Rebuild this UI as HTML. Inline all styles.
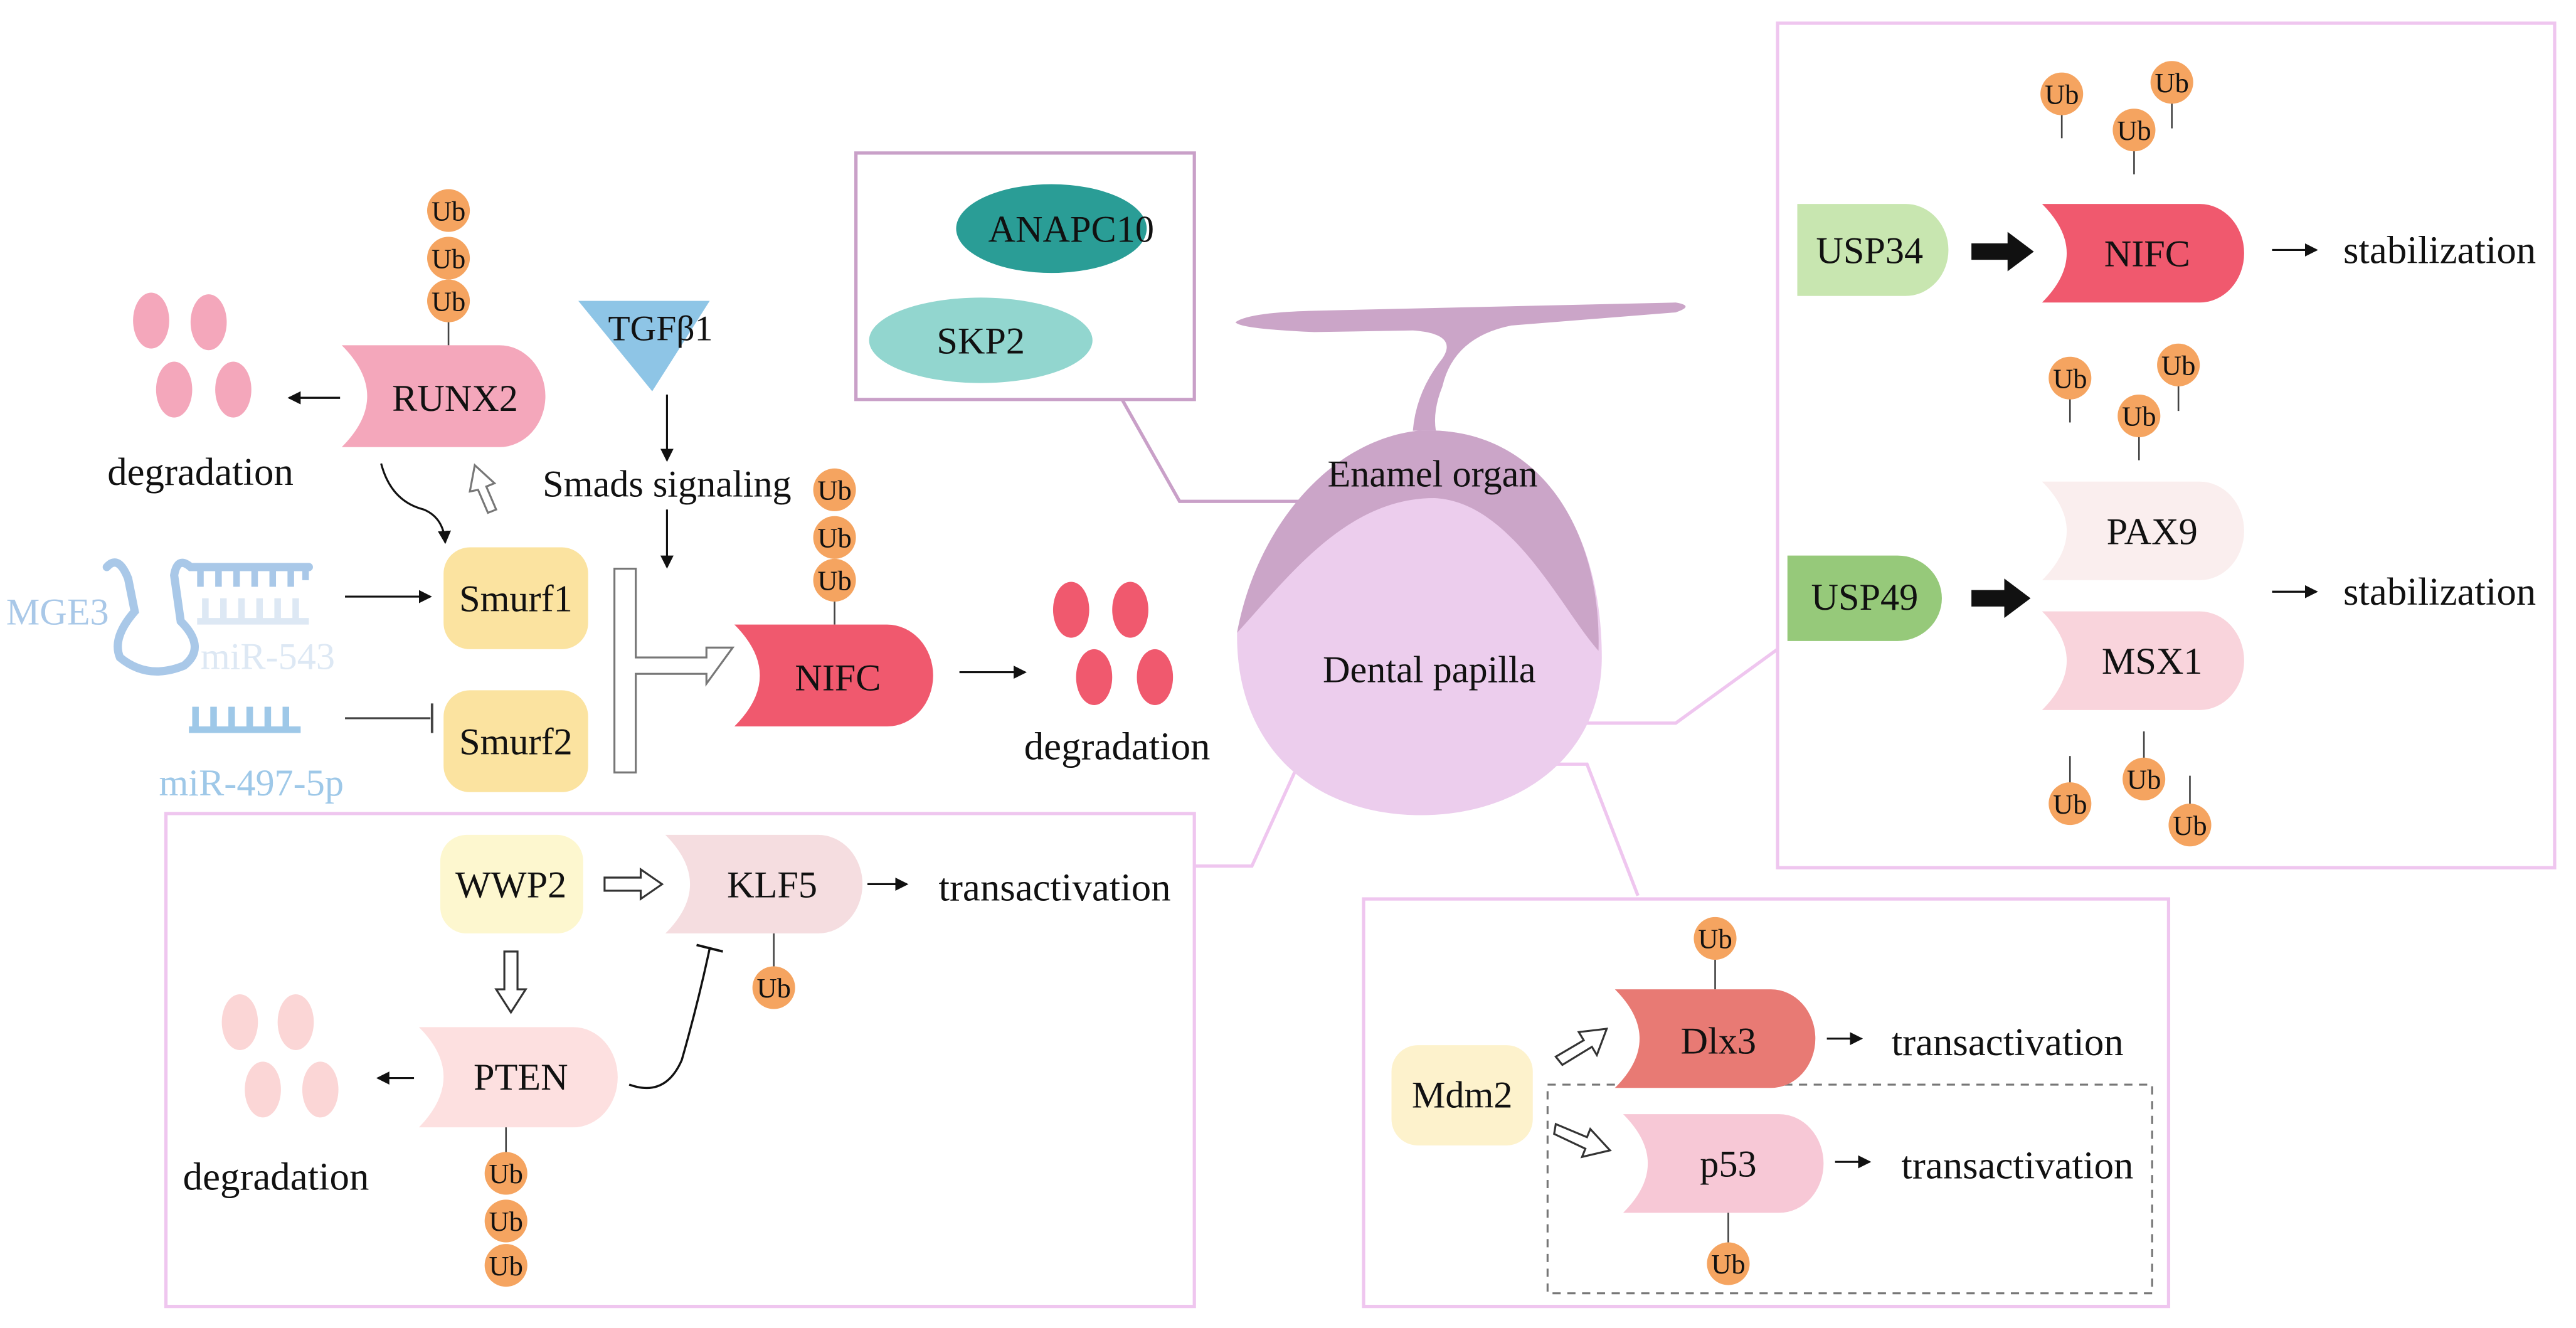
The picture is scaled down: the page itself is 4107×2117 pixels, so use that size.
<!DOCTYPE html>
<html><head><meta charset="utf-8"><style>
html,body{margin:0;padding:0;background:#fff;width:4107px;height:2117px;overflow:hidden}
svg{display:block}
text{font-family:"Liberation Serif",serif;fill:#111}
</style></head><body>
<svg width="4107" height="2117" viewBox="0 0 1568 808" xmlns="http://www.w3.org/2000/svg">
<defs>
<marker id="ar" markerWidth="8" markerHeight="8" refX="7" refY="4" orient="auto" markerUnits="userSpaceOnUse"><path d="M0 0 L8 4 L0 8 Z" fill="#111"/></marker>
<g id="ub"><circle r="13" fill="#f5a460"/><text y="6" text-anchor="middle" font-size="17">Ub</text></g>
</defs>

<g fill="none" stroke-width="2">
<polyline points="683,243 718,305 810,305" stroke="#c9a0c8"/>
<polyline points="958,440 1020,440 1082,395" stroke="#efc6ef"/>
<polyline points="938,465 966,465 997,545" stroke="#efc6ef"/>
<polyline points="788,470 762,527 727,527" stroke="#efc6ef"/>
</g>

<rect x="521" y="93" width="206" height="150" fill="none" stroke="#c9a0c8" stroke-width="2"/>
<rect x="1082" y="14" width="473" height="514" fill="none" stroke="#efc6ef" stroke-width="2"/>
<rect x="101" y="495" width="626" height="300" fill="none" stroke="#efc6ef" stroke-width="2"/>
<rect x="830" y="547" width="490" height="248" fill="none" stroke="#efc6ef" stroke-width="2"/>
<rect x="942" y="660" width="368" height="127" fill="none" stroke="#777" stroke-width="1.2" stroke-dasharray="5,4"/>

<ellipse cx="640" cy="139" rx="58" ry="27" fill="#2a9d96"/>
<text x="652" y="147" text-anchor="middle" font-size="23">ANAPC10</text>
<ellipse cx="597" cy="207" rx="68" ry="26" fill="#92d6cf"/>
<text x="597" y="215" text-anchor="middle" font-size="23">SKP2</text>

<path d="M752 196 Q760 190 800 189 L1020 184 Q1032 186 1020 190 L920 198 Q885 205 878 235 Q872 250 874 262 L860 262 Q862 238 878 218 Q888 203 860 201 L800 202 Q755 200 752 196 Z" fill="#cba5c8"/>
<path d="M753 385 C765 320 810 268 863 262 C935 258 975 320 975 400 C975 460 925 496 865 496 C800 496 752 455 753 385 Z" fill="#eccded"/>
<path d="M753 385 C765 320 810 268 863 262 C935 258 975 320 973 396 C950 370 920 305 873 303 C820 303 785 350 753 385 Z" fill="#cba5c8"/>
<text x="872" y="296" text-anchor="middle" font-size="23">Enamel organ</text>
<text x="870" y="415" text-anchor="middle" font-size="23">Dental papilla</text>

<line x1="273" y1="190" x2="273" y2="210" stroke="#444" stroke-width="1"/>
<use href="#ub" x="273" y="128"/><use href="#ub" x="273" y="157"/><use href="#ub" x="273" y="183"/>
<path d="M208 210 H304 A28 31 0 0 1 304 272 H208 Q239 241 208 210Z" fill="#f4a7bb"/>
<text x="277" y="250" text-anchor="middle" font-size="23">RUNX2</text>
<g fill="#f4a7bb"><ellipse cx="92" cy="195" rx="11" ry="17"/><ellipse cx="127" cy="196" rx="11" ry="17"/><ellipse cx="106" cy="237" rx="11" ry="17"/><ellipse cx="142" cy="237" rx="11" ry="17"/></g>
<line x1="207" y1="242" x2="176" y2="242" stroke="#111" stroke-width="1.3" marker-end="url(#ar)"/>
<text x="122" y="295" text-anchor="middle" font-size="24">degradation</text>

<polygon points="352,183 432,183 397,238" fill="#8ec5e6"/>
<text x="402" y="207" text-anchor="middle" font-size="22">TGFβ1</text>
<line x1="406" y1="240" x2="406" y2="280" stroke="#111" stroke-width="1.2" marker-end="url(#ar)"/>
<text x="406" y="302" text-anchor="middle" font-size="23">Smads signaling</text>
<line x1="406" y1="310" x2="406" y2="345" stroke="#111" stroke-width="1.2" marker-end="url(#ar)"/>

<path d="M232 282 Q238 305 258 310 Q270 315 271 330" fill="none" stroke="#111" stroke-width="1.2" marker-end="url(#ar)"/>
<polygon points="302,310 296,296 301,294 289,283 286,299 291,298 297,312" fill="#fff" stroke="#777" stroke-width="1.2"/>

<text x="35" y="380" text-anchor="middle" font-size="23" style="fill:#a9c8e8">MGE3</text>
<g fill="none" stroke="#a9c8e8" stroke-width="5" stroke-linecap="round">
<path d="M65 345 Q72 337 78 352 L82 372 Q68 388 73 400 Q90 414 112 405 Q126 394 110 378 L106 350 Q108 338 116 345 L188 345"/>
</g>
<g stroke="#a9c8e8" stroke-width="4"><line x1="122" y1="345" x2="122" y2="357"/><line x1="133" y1="345" x2="133" y2="357"/><line x1="144" y1="345" x2="144" y2="357"/><line x1="155" y1="345" x2="155" y2="357"/><line x1="166" y1="345" x2="166" y2="357"/><line x1="177" y1="345" x2="177" y2="357"/><line x1="186" y1="345" x2="186" y2="353"/></g>
<g stroke="#dde8f4" stroke-width="4"><line x1="120" y1="378" x2="188" y2="378"/><line x1="125" y1="364" x2="125" y2="378"/><line x1="136" y1="364" x2="136" y2="378"/><line x1="147" y1="364" x2="147" y2="378"/><line x1="158" y1="364" x2="158" y2="378"/><line x1="169" y1="364" x2="169" y2="378"/><line x1="180" y1="364" x2="180" y2="378"/></g>
<text x="163" y="407" text-anchor="middle" font-size="23" style="fill:#dde8f4">miR-543</text>
<g stroke="#9ec8e8" stroke-width="4"><line x1="115" y1="444" x2="183" y2="444"/><line x1="119" y1="430" x2="119" y2="444"/><line x1="130" y1="430" x2="130" y2="444"/><line x1="141" y1="430" x2="141" y2="444"/><line x1="152" y1="430" x2="152" y2="444"/><line x1="163" y1="430" x2="163" y2="444"/><line x1="174" y1="430" x2="174" y2="444"/></g>
<text x="153" y="484" text-anchor="middle" font-size="23" style="fill:#9ec8e8">miR-497-5p</text>

<line x1="210" y1="363" x2="262" y2="363" stroke="#111" stroke-width="1.2" marker-end="url(#ar)"/>
<line x1="210" y1="437" x2="262" y2="437" stroke="#444" stroke-width="1.2"/>
<line x1="263" y1="428" x2="263" y2="446" stroke="#444" stroke-width="1.5"/>

<rect x="270" y="333" width="88" height="62" rx="16" fill="#fbe3a0"/>
<text x="314" y="372" text-anchor="middle" font-size="23">Smurf1</text>
<rect x="270" y="420" width="88" height="62" rx="16" fill="#fbe3a0"/>
<text x="314" y="459" text-anchor="middle" font-size="23">Smurf2</text>

<path d="M374 346 H387 V400 H430 V394 H446 L430 416 V410 H387 V470 H374 Z" fill="#fff" stroke="#777" stroke-width="1.2"/>

<line x1="508" y1="360" x2="508" y2="380" stroke="#444" stroke-width="1"/>
<use href="#ub" x="508" y="298"/><use href="#ub" x="508" y="327"/><use href="#ub" x="508" y="353"/>
<path d="M447 380 H540 A28 31 0 0 1 540 442 H447 Q478 411 447 380Z" fill="#f0596e"/>
<text x="510" y="420" text-anchor="middle" font-size="23">NIFC</text>
<line x1="584" y1="409" x2="624" y2="409" stroke="#111" stroke-width="1.2" marker-end="url(#ar)"/>
<g fill="#f0596e"><ellipse cx="652" cy="371" rx="11" ry="17"/><ellipse cx="688" cy="371" rx="11" ry="17"/><ellipse cx="666" cy="412" rx="11" ry="17"/><ellipse cx="703" cy="412" rx="11" ry="17"/></g>
<text x="680" y="462" text-anchor="middle" font-size="24">degradation</text>

<g stroke="#444" stroke-width="1"><line x1="1255" y1="66" x2="1255" y2="84"/><line x1="1322" y1="59" x2="1322" y2="78"/><line x1="1299" y1="88" x2="1299" y2="106"/></g>
<use href="#ub" x="1255" y="57"/><use href="#ub" x="1322" y="50"/><use href="#ub" x="1299" y="79"/>
<path d="M1094 124 H1160 A26 28 0 0 1 1160 180 H1094Z" fill="#c8e6b0"/>
<text x="1138" y="160" text-anchor="middle" font-size="23">USP34</text>
<polygon points="1200,148 1222,148 1222,141 1238,153 1222,165 1222,158 1200,158" fill="#111"/>
<path d="M1243 124 H1339 A27 30 0 0 1 1339 184 H1243 Q1273 154 1243 124Z" fill="#f0596e"/>
<text x="1307" y="162" text-anchor="middle" font-size="23">NIFC</text>
<line x1="1383" y1="152" x2="1410" y2="152" stroke="#111" stroke-width="1.2" marker-end="url(#ar)"/>
<text x="1485" y="160" text-anchor="middle" font-size="24">stabilization</text>

<g stroke="#444" stroke-width="1"><line x1="1260" y1="239" x2="1260" y2="257"/><line x1="1326" y1="231" x2="1326" y2="250"/><line x1="1302" y1="262" x2="1302" y2="280"/></g>
<use href="#ub" x="1260" y="230"/><use href="#ub" x="1326" y="222"/><use href="#ub" x="1302" y="253"/>
<path d="M1088 338 H1155 A27 26 0 0 1 1155 390 H1088Z" fill="#96c97a"/>
<text x="1135" y="371" text-anchor="middle" font-size="23">USP49</text>
<polygon points="1200,359 1220,359 1220,352 1236,364 1220,376 1220,369 1200,369" fill="#111"/>
<path d="M1243 293 H1339 A27 30 0 0 1 1339 353 H1243 Q1273 323 1243 293Z" fill="#faeeee"/>
<text x="1310" y="331" text-anchor="middle" font-size="23">PAX9</text>
<path d="M1243 372 H1339 A27 30 0 0 1 1339 432 H1243 Q1273 402 1243 372Z" fill="#f9d4dc"/>
<text x="1310" y="410" text-anchor="middle" font-size="23">MSX1</text>
<line x1="1383" y1="360" x2="1410" y2="360" stroke="#111" stroke-width="1.2" marker-end="url(#ar)"/>
<text x="1485" y="368" text-anchor="middle" font-size="24">stabilization</text>
<g stroke="#444" stroke-width="1"><line x1="1260" y1="460" x2="1260" y2="478"/><line x1="1305" y1="445" x2="1305" y2="463"/><line x1="1333" y1="472" x2="1333" y2="490"/></g>
<use href="#ub" x="1260" y="489"/><use href="#ub" x="1305" y="474"/><use href="#ub" x="1333" y="502"/>

<rect x="847" y="636" width="86" height="61" rx="16" fill="#fdf2cc"/>
<text x="890" y="674" text-anchor="middle" font-size="23">Mdm2</text>
<polygon points="947,643 964,633 961,628 978,626 972,642 969,637 951,648" fill="#fff" stroke="#333" stroke-width="1.2"/>
<polygon points="947,684 966,692 968,687 980,700 963,704 965,699 946,690" fill="#fff" stroke="#333" stroke-width="1.2"/>
<line x1="1044" y1="584" x2="1044" y2="602" stroke="#444" stroke-width="1"/>
<use href="#ub" x="1044" y="571"/>
<path d="M983 602 H1078 A27 30 0 0 1 1078 662 H983 Q1013 632 983 602Z" fill="#e87a74"/>
<text x="1046" y="641" text-anchor="middle" font-size="23">Dlx3</text>
<line x1="1112" y1="632" x2="1133" y2="632" stroke="#111" stroke-width="1.2" marker-end="url(#ar)"/>
<text x="1222" y="642" text-anchor="middle" font-size="24">transactivation</text>
<path d="M988 678 H1083 A27 30 0 0 1 1083 738 H988 Q1018 708 988 678Z" fill="#f7c8d6"/>
<text x="1052" y="716" text-anchor="middle" font-size="23">p53</text>
<line x1="1052" y1="738" x2="1052" y2="756" stroke="#444" stroke-width="1"/>
<use href="#ub" x="1052" y="769"/>
<line x1="1117" y1="707" x2="1138" y2="707" stroke="#111" stroke-width="1.2" marker-end="url(#ar)"/>
<text x="1228" y="717" text-anchor="middle" font-size="24">transactivation</text>

<rect x="268" y="508" width="87" height="60" rx="16" fill="#fdf7cf"/>
<text x="311" y="546" text-anchor="middle" font-size="23">WWP2</text>
<polygon points="368,534 390,534 390,529 403,538 390,547 390,542 368,542" fill="#fff" stroke="#333" stroke-width="1.2"/>
<path d="M405 508 H498 A27 30 0 0 1 498 568 H405 Q435 538 405 508Z" fill="#f5dde0"/>
<text x="470" y="546" text-anchor="middle" font-size="23">KLF5</text>
<line x1="471" y1="568" x2="471" y2="588" stroke="#444" stroke-width="1"/>
<use href="#ub" x="471" y="601"/>
<line x1="528" y1="538" x2="552" y2="538" stroke="#111" stroke-width="1.2" marker-end="url(#ar)"/>
<text x="642" y="548" text-anchor="middle" font-size="24">transactivation</text>
<polygon points="307,579 315,579 315,602 320,602 311,616 302,602 307,602" fill="#fff" stroke="#333" stroke-width="1.2"/>
<path d="M255 625 H349 A27 30.5 0 0 1 349 686 H255 Q285 655 255 625Z" fill="#fde0e0"/>
<text x="317" y="663" text-anchor="middle" font-size="23">PTEN</text>
<line x1="252" y1="656" x2="230" y2="656" stroke="#111" stroke-width="1.2" marker-end="url(#ar)"/>
<g fill="#fbd6d6"><ellipse cx="146" cy="622" rx="11" ry="17"/><ellipse cx="180" cy="622" rx="11" ry="17"/><ellipse cx="160" cy="663" rx="11" ry="17"/><ellipse cx="195" cy="663" rx="11" ry="17"/></g>
<text x="168" y="724" text-anchor="middle" font-size="24">degradation</text>
<line x1="308" y1="686" x2="308" y2="704" stroke="#444" stroke-width="1"/>
<use href="#ub" x="308" y="714"/><use href="#ub" x="308" y="743"/><use href="#ub" x="308" y="770"/>
<path d="M383 660 Q405 668 415 645 Q425 610 432 577" fill="none" stroke="#111" stroke-width="1.3"/>
<line x1="424" y1="575" x2="440" y2="579" stroke="#111" stroke-width="1.5"/>
</svg>
</body></html>
